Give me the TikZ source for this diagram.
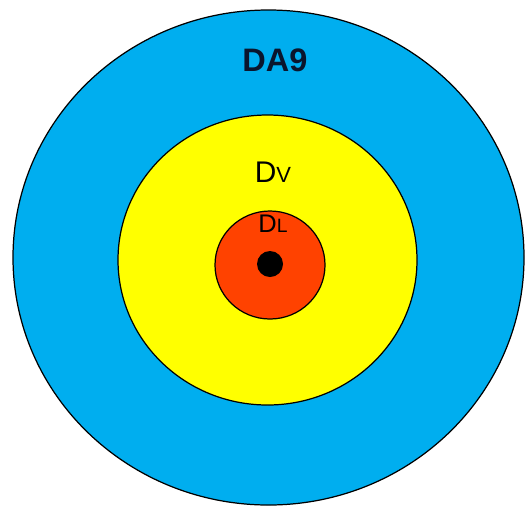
\documentclass[tikz,border=0pt]{standalone}
\usepackage{fontspec}
\setmainfont{Liberation Sans}
\usetikzlibrary{shapes.geometric}
\definecolor{skyring}{RGB}{0,174,239}
\definecolor{sunring}{RGB}{255,255,0}
\definecolor{firering}{RGB}{255,66,0}
\definecolor{inkblue}{RGB}{10,22,45}
\tikzset{
  ring/.style={ellipse,draw=black,line width=0.7pt,fill=#1,inner sep=0pt},
  ring/.default=skyring,
  zone/.style={font=\fontsize{#1}{#1}\selectfont,inner sep=0pt},
}

\begin{document}
\begin{tikzpicture}[x=0.02cm,y=0.02cm]
    \useasboundingbox (0,0) rectangle (526,512);
    \node[ring=skyring,minimum width=511*0.02cm,minimum height=495*0.02cm] (outer) at (268.5,254.5) {};
    \node[ring=sunring,minimum width=299*0.02cm,minimum height=290*0.02cm] (middle) at (267.5,252) {};
    \node[ring=firering,minimum width=110*0.02cm,minimum height=108*0.02cm] (inner) at (270,247) {};
    \node[circle,fill=black,minimum size=26*0.02cm,inner sep=0pt] (core) at (270,248) {};
    \node[zone=18.5,text=inkblue] (la9) at (275,452) {\bfseries DA9};
    \node[zone=17] (lv) at (273,340) {D{\fontsize{12.5}{12.5}\selectfont V}};
    \node[zone=14.5] (ll) at (273,288) {D{\fontsize{11}{11}\selectfont L}};
  \end{tikzpicture}
\end{document}
